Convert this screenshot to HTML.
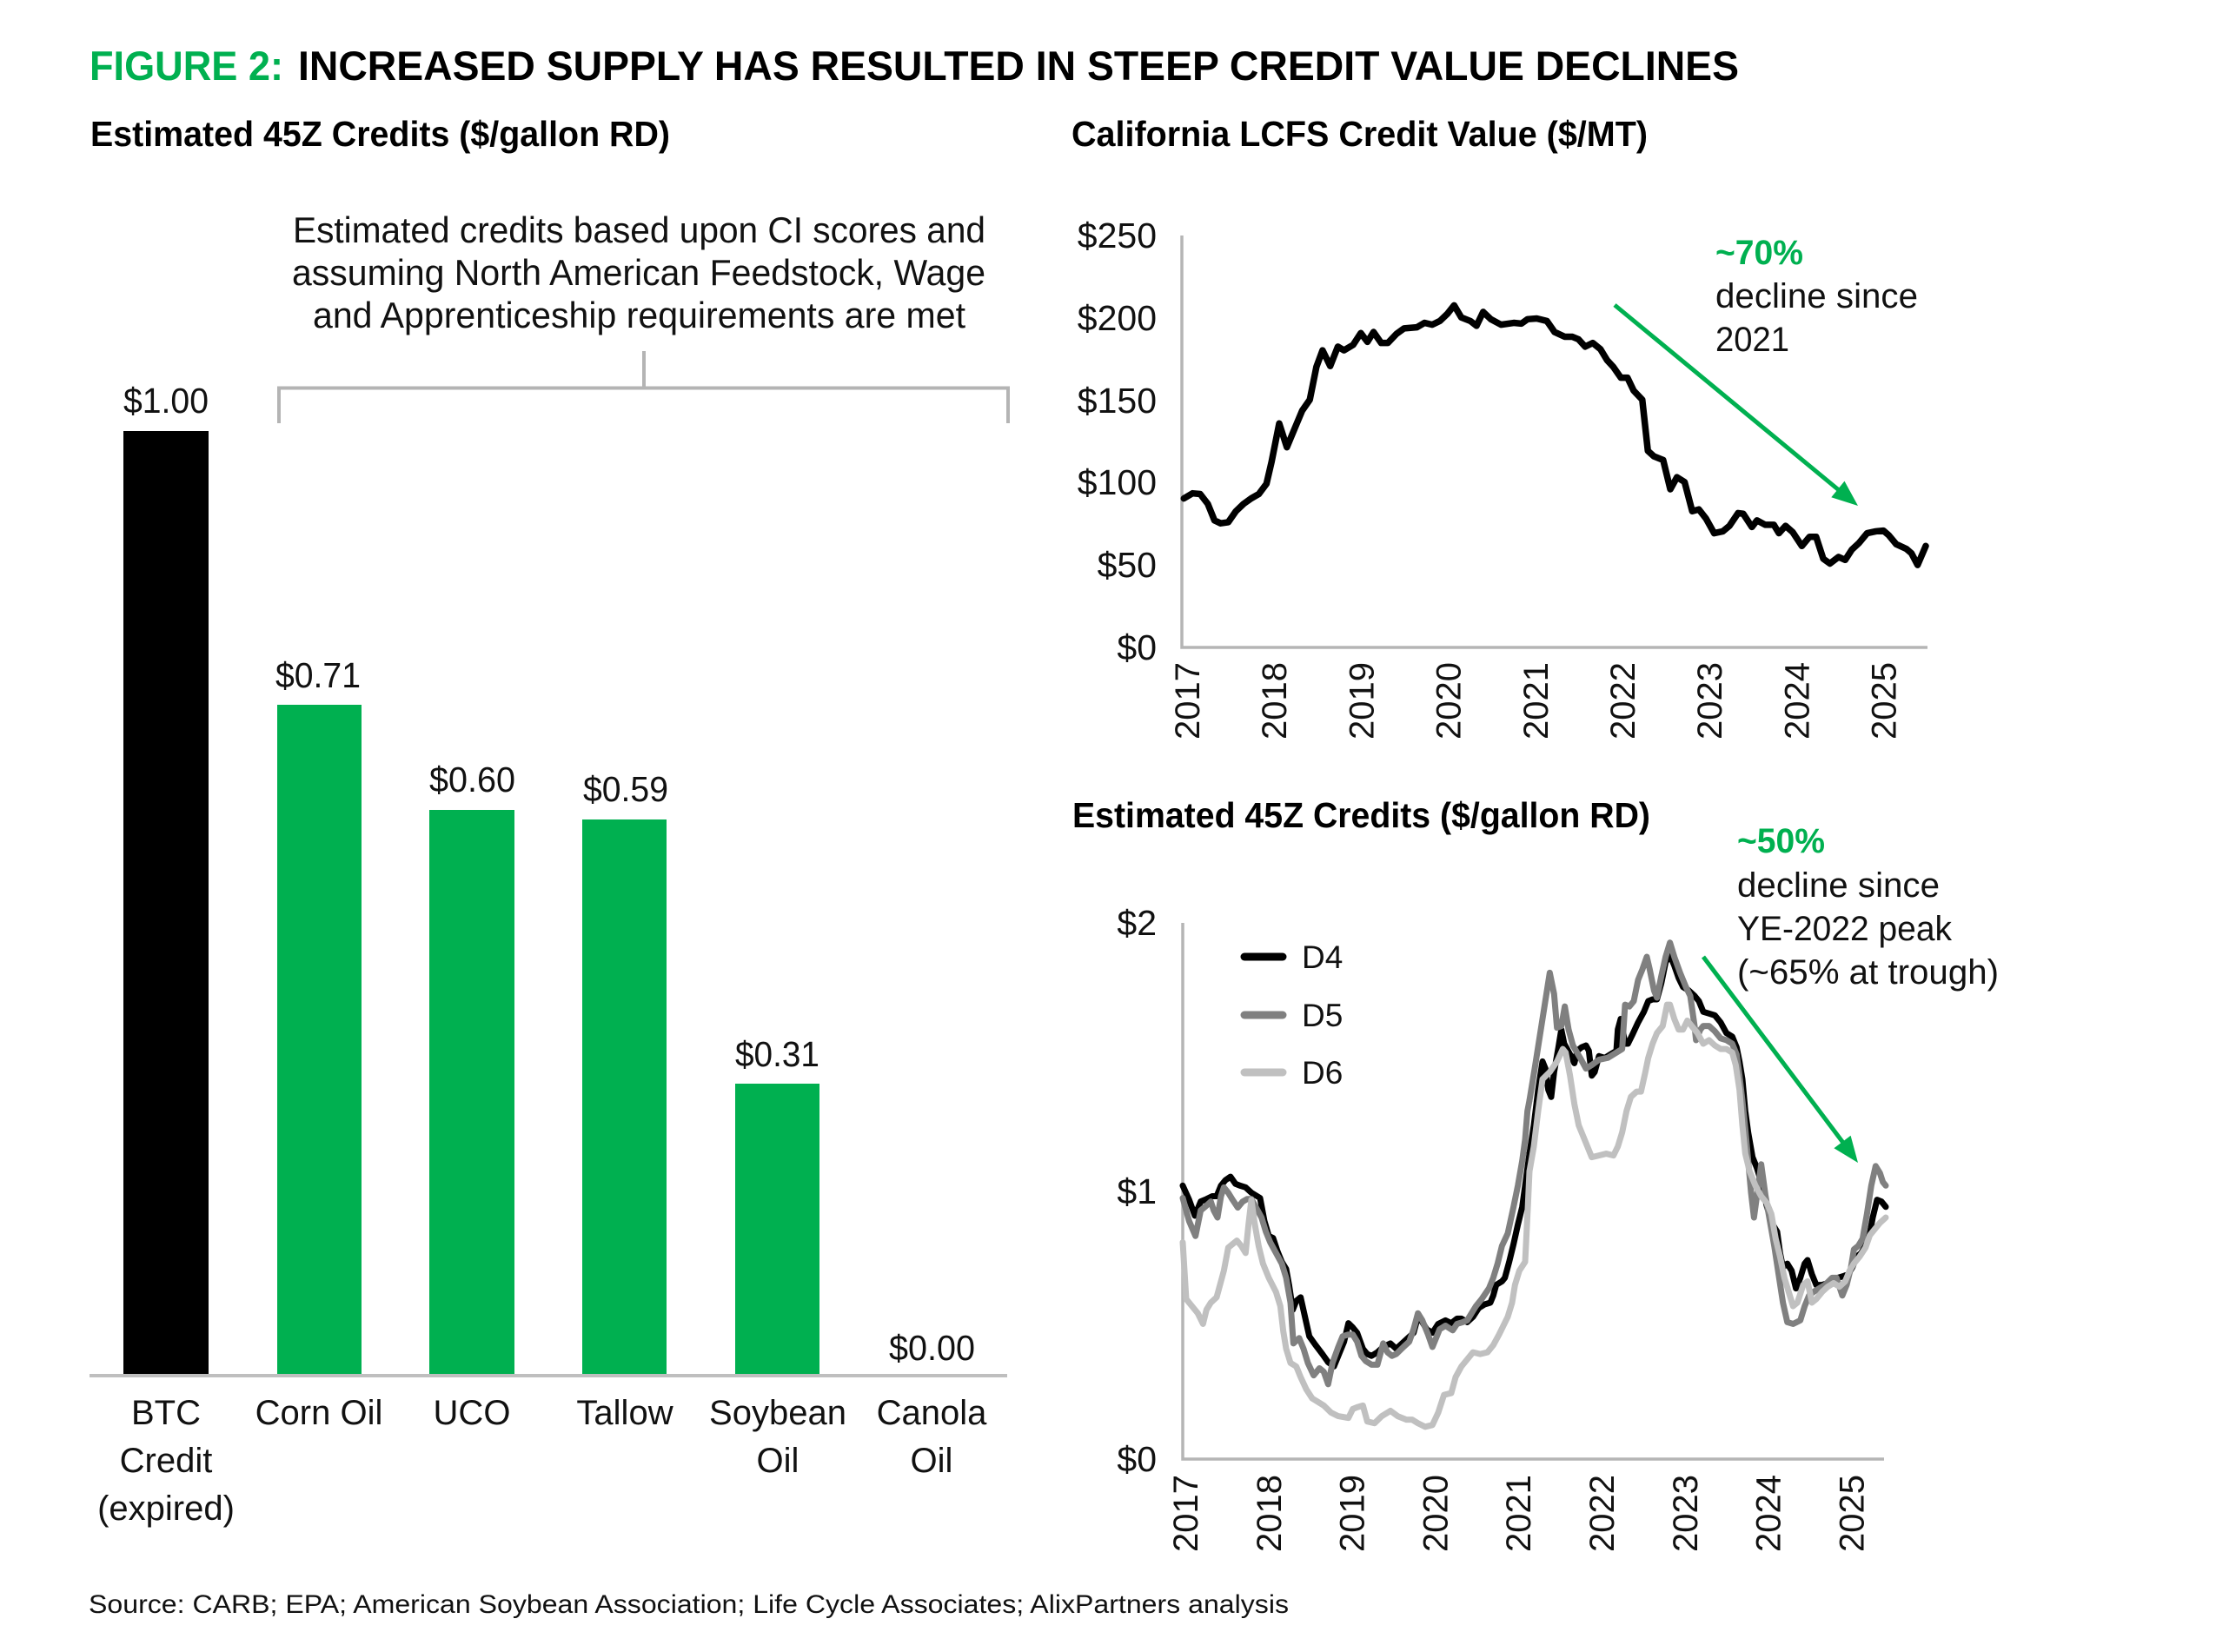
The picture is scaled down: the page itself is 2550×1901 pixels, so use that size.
<!DOCTYPE html>
<html>
<head>
<meta charset="utf-8">
<style>
html,body{margin:0;padding:0;background:#fff;}
svg{display:block;}
text{font-family:"Liberation Sans",Arial,sans-serif;}
.r{fill:#111;}
</style>
</head>
<body>
<svg width="2550" height="1901" viewBox="0 0 2550 1901" xmlns="http://www.w3.org/2000/svg">
<rect x="0" y="0" width="2550" height="1901" fill="#fff"/>

<!-- Title -->
<text x="103" y="92" font-size="47" font-weight="bold" fill="#00b050" textLength="223" lengthAdjust="spacingAndGlyphs">FIGURE 2:</text>
<text x="343" y="92" font-size="47" font-weight="bold" fill="#000" textLength="1658" lengthAdjust="spacingAndGlyphs">INCREASED SUPPLY HAS RESULTED IN STEEP CREDIT VALUE DECLINES</text>

<!-- Subtitles -->
<text x="104" y="168" font-size="41" font-weight="bold" fill="#000" textLength="667" lengthAdjust="spacingAndGlyphs">Estimated 45Z Credits ($/gallon RD)</text>
<text x="1233" y="168" font-size="41" font-weight="bold" fill="#000" textLength="663" lengthAdjust="spacingAndGlyphs">California LCFS Credit Value ($/MT)</text>
<text x="1234" y="952" font-size="41" font-weight="bold" fill="#000" textLength="665" lengthAdjust="spacingAndGlyphs">Estimated 45Z Credits ($/gallon RD)</text>

<!-- ===== Left bar chart ===== -->
<text class="r" x="337" y="279" font-size="42" textLength="797" lengthAdjust="spacingAndGlyphs">Estimated credits based upon CI scores and</text>
<text class="r" x="336" y="328" font-size="42" textLength="798" lengthAdjust="spacingAndGlyphs">assuming North American Feedstock, Wage</text>
<text class="r" x="360" y="377" font-size="42" textLength="751" lengthAdjust="spacingAndGlyphs">and Apprenticeship requirements are met</text>

<!-- bracket -->
<g stroke="#b4b4b4" stroke-width="4" fill="none">
<polyline points="321,487 321,446.5 1160,446.5 1160,487"/>
<line x1="741" y1="404" x2="741" y2="446.5"/>
</g>

<!-- bars -->
<rect x="142" y="496" width="98" height="1087" fill="#000"/>
<rect x="319" y="811" width="97" height="772" fill="#00b050"/>
<rect x="494" y="932" width="98" height="651" fill="#00b050"/>
<rect x="670" y="943" width="97" height="640" fill="#00b050"/>
<rect x="846" y="1247" width="97" height="336" fill="#00b050"/>
<line x1="103" y1="1583" x2="1159" y2="1583" stroke="#bfbfbf" stroke-width="4"/>

<!-- value labels -->
<g font-size="41" class="r">
<text x="142" y="475" textLength="98" lengthAdjust="spacingAndGlyphs">$1.00</text>
<text x="317" y="791" textLength="98" lengthAdjust="spacingAndGlyphs">$0.71</text>
<text x="494" y="911" textLength="99" lengthAdjust="spacingAndGlyphs">$0.60</text>
<text x="671" y="922" textLength="98" lengthAdjust="spacingAndGlyphs">$0.59</text>
<text x="846" y="1227" textLength="97" lengthAdjust="spacingAndGlyphs">$0.31</text>
<text x="1023" y="1565" textLength="99" lengthAdjust="spacingAndGlyphs">$0.00</text>
</g>

<!-- category labels -->
<g font-size="40" class="r" text-anchor="middle">
<text x="191" y="1639">BTC</text>
<text x="191" y="1694">Credit</text>
<text x="191" y="1749">(expired)</text>
<text x="367" y="1639">Corn Oil</text>
<text x="543" y="1639">UCO</text>
<text x="719" y="1639">Tallow</text>
<text x="895" y="1639">Soybean</text>
<text x="895" y="1694">Oil</text>
<text x="1072" y="1639">Canola</text>
<text x="1072" y="1694">Oil</text>
</g>

<!-- source -->
<text class="r" x="102" y="1856" font-size="30" textLength="1381" lengthAdjust="spacingAndGlyphs">Source: CARB; EPA; American Soybean Association; Life Cycle Associates; AlixPartners analysis</text>

<!-- ===== Top right chart ===== -->
<g stroke="#b5b5b5" stroke-width="3.5" fill="none">
<polyline points="1360,271 1360,745 2218,745"/>
</g>
<g font-size="41" class="r" text-anchor="end">
<text x="1331" y="285">$250</text>
<text x="1331" y="380">$200</text>
<text x="1331" y="475">$150</text>
<text x="1331" y="569">$100</text>
<text x="1331" y="664">$50</text>
<text x="1331" y="759">$0</text>
</g>
<g font-size="40" class="r" text-anchor="end">
<text transform="translate(1380,762) rotate(-90)">2017</text>
<text transform="translate(1480.2,762) rotate(-90)">2018</text>
<text transform="translate(1580.4,762) rotate(-90)">2019</text>
<text transform="translate(1680.6,762) rotate(-90)">2020</text>
<text transform="translate(1780.8,762) rotate(-90)">2021</text>
<text transform="translate(1881,762) rotate(-90)">2022</text>
<text transform="translate(1981.2,762) rotate(-90)">2023</text>
<text transform="translate(2081.4,762) rotate(-90)">2024</text>
<text transform="translate(2181.6,762) rotate(-90)">2025</text>
</g>

<g transform="translate(1340,220) scale(0.58675,0.42091)">
<polyline fill="none" stroke="#000" stroke-width="7.5" stroke-linejoin="round" stroke-linecap="round" vector-effect="non-scaling-stroke"
points="38,840 55,826 70,828 85,855 98,900 110,908 125,905 140,875 155,855 170,840 185,828 200,800 210,740 225,635 240,700 255,650 270,600 285,570 298,480 310,435 325,478 340,425 352,435 370,420 385,388 398,412 410,385 425,415 438,415 455,390 470,375 495,372 510,360 525,365 540,355 555,335 568,312 582,345 600,355 612,368 625,330 640,350 660,365 685,360 700,362 712,350 730,348 750,355 765,385 785,398 800,398 812,405 825,425 840,415 855,432 868,462 880,480 895,510 908,510 920,545 937,570 948,710 960,725 978,735 992,815 1005,782 1020,795 1035,875 1048,870 1062,895 1078,935 1095,930 1108,915 1125,880 1135,882 1152,918 1162,900 1178,912 1195,912 1205,935 1218,915 1232,932 1250,970 1265,945 1278,945 1292,1005 1305,1018 1322,1000 1335,1008 1348,980 1362,962 1378,935 1395,930 1410,928 1420,940 1435,965 1455,978 1465,990 1477,1022 1493,970"/>
</g>

<!-- top arrow -->
<line x1="1858" y1="351" x2="2116" y2="564" stroke="#00b050" stroke-width="5"/>
<polygon points="2138,582 2107.3,572.2 2122.5,553.6" fill="#00b050"/>
<text x="1974" y="304" font-size="40" font-weight="bold" fill="#00b050" textLength="101" lengthAdjust="spacingAndGlyphs">~70%</text>
<text class="r" x="1974" y="354" font-size="40" textLength="233" lengthAdjust="spacingAndGlyphs">decline since</text>
<text class="r" x="1974" y="404" font-size="40" textLength="85" lengthAdjust="spacingAndGlyphs">2021</text>

<!-- ===== Bottom right chart ===== -->
<g stroke="#b5b5b5" stroke-width="3.5" fill="none">
<polyline points="1361,1062 1361,1679 2168,1679"/>
</g>
<g font-size="41" class="r" text-anchor="end">
<text x="1331" y="1076">$2</text>
<text x="1331" y="1385">$1</text>
<text x="1331" y="1693">$0</text>
</g>
<g font-size="40" class="r" text-anchor="end">
<text transform="translate(1378,1697) rotate(-90)">2017</text>
<text transform="translate(1473.8,1697) rotate(-90)">2018</text>
<text transform="translate(1569.6,1697) rotate(-90)">2019</text>
<text transform="translate(1665.4,1697) rotate(-90)">2020</text>
<text transform="translate(1761.2,1697) rotate(-90)">2021</text>
<text transform="translate(1857,1697) rotate(-90)">2022</text>
<text transform="translate(1952.8,1697) rotate(-90)">2023</text>
<text transform="translate(2048.6,1697) rotate(-90)">2024</text>
<text transform="translate(2144.4,1697) rotate(-90)">2025</text>
</g>

<!-- legend -->
<g stroke-width="9" stroke-linecap="round">
<line x1="1432" y1="1101" x2="1476" y2="1101" stroke="#000"/>
<line x1="1432" y1="1168" x2="1476" y2="1168" stroke="#808080"/>
<line x1="1432" y1="1234" x2="1476" y2="1234" stroke="#c0c0c0"/>
</g>
<g font-size="37" class="r">
<text x="1498" y="1114">D4</text>
<text x="1498" y="1181">D5</text>
<text x="1498" y="1247">D6</text>
</g>

<!-- series: D4 -->
<g fill="none" stroke-linejoin="round" stroke-linecap="round">
<g transform="translate(1355,1050) scale(0.33333,0.40816)">
<polyline stroke="#000" stroke-width="7" vector-effect="non-scaling-stroke" points="18,770 40,810 60,855 80,815 100,808 120,800 135,800 150,770 165,755 183,745 200,765 215,770 235,775 255,790 285,805 300,870 315,912 330,918 345,955 360,985 375,1005 385,1050 398,1120 410,1095 425,1085 440,1140 455,1195 475,1218 500,1245 520,1268 540,1280 555,1250 575,1210 590,1158 605,1170 620,1185 640,1230 655,1245 670,1250 690,1240 710,1225 735,1215 755,1230 775,1215 795,1200 815,1185 830,1140 845,1155 860,1175 880,1185 900,1160 925,1150 945,1158 965,1145 980,1145 1000,1155 1020,1140 1040,1115 1060,1105 1080,1100 1090,1080 1100,1050 1120,1040 1130,1030 1145,985 1160,935 1175,880 1190,830 1205,740 1215,680"/>
</g>
<g transform="translate(1760,1050) scale(0.33333,0.40816)">
<polyline stroke="#000" stroke-width="7" vector-effect="non-scaling-stroke" points="0,680 15,600 30,500 45,420 55,440 65,500 75,520 85,450 100,380 110,330 120,370 140,400 155,425 165,390 180,380 195,375 205,390 215,460 225,450 240,405 260,410 280,400 300,390 305,330 315,300 330,370 340,370 355,345 375,310 395,280 410,250 425,245 440,245 455,200 470,140 485,120 500,150 515,185 530,210 550,220 570,235 585,250 600,280 620,285 640,290 660,310 680,340 700,350 715,380 725,420 735,470 745,560 755,620 770,690 785,720 800,760 820,830 840,880 855,900 865,960 875,1000 890,990 905,1010 920,1060 935,1030 950,990 960,980 975,1020 990,1050 1010,1050 1030,1045 1050,1035 1065,1030 1085,1025 1100,1020 1115,1000 1130,970 1145,960 1160,940 1175,905 1185,860 1200,810 1215,815 1230,830"/>
</g>

<!-- D5 -->
<g transform="translate(1355,1050) scale(0.33333,0.40816)">
<polyline stroke="#808080" stroke-width="7" vector-effect="non-scaling-stroke" points="18,805 40,870 62,912 80,840 95,830 115,815 125,840 138,860 150,800 160,775 175,790 190,810 208,832 225,815 240,808 255,808 270,830 290,860 305,900 320,930 340,960 360,990 375,1030 390,1100 400,1215 420,1200 435,1230 450,1270 470,1305 490,1285 505,1295 520,1330 535,1270 555,1225 570,1195 590,1190 605,1190 620,1210 635,1250 650,1265 670,1275 690,1275 710,1215 725,1240 740,1250 755,1245 780,1225 800,1210 815,1175 830,1130 845,1150 865,1190 880,1225 895,1195 905,1175 925,1165 950,1178 965,1160 985,1155 1000,1150 1015,1130 1030,1110 1050,1090 1075,1060 1090,1030 1105,990 1120,940 1140,905 1160,830 1175,770 1190,700 1200,640 1208,560 1215,530"/>
</g>
<g transform="translate(1760,1050) scale(0.33333,0.40816)">
<polyline stroke="#808080" stroke-width="7" vector-effect="non-scaling-stroke" points="0,530 20,430 45,300 70,170 85,230 95,325 110,320 122,265 135,330 150,375 175,410 195,440 215,430 240,415 270,410 300,395 320,385 330,260 345,265 360,250 375,190 390,160 405,125 415,160 430,220 440,240 455,180 470,125 485,85 500,125 520,170 540,210 555,235 570,320 575,360 590,330 600,320 620,320 640,335 660,355 680,360 700,370 715,400 725,460 735,530 745,610 755,700 765,790 775,860 785,800 800,710 805,740 815,800 830,870 845,940 860,1020 875,1100 890,1155 910,1160 935,1150 950,1110 965,1080 980,1070 1000,1060 1020,1050 1045,1030 1060,1030 1080,1080 1095,1050 1110,1000 1120,950 1135,940 1150,920 1165,850 1180,770 1195,715 1210,735 1220,760 1230,770"/>
</g>

<!-- D6 -->
<g transform="translate(1355,1050) scale(0.33333,0.40816)">
<polyline stroke="#c0c0c0" stroke-width="7" vector-effect="non-scaling-stroke" points="18,930 30,1090 50,1110 70,1130 88,1160 100,1120 115,1100 135,1085 150,1040 160,1010 175,945 190,935 205,925 220,940 235,960 245,880 255,810 265,870 280,940 295,990 315,1030 340,1070 355,1110 365,1180 375,1230 390,1270 410,1280 425,1310 445,1345 465,1370 485,1380 505,1390 530,1410 555,1420 590,1425 605,1400 620,1395 640,1390 655,1435 680,1440 705,1420 735,1405 760,1420 790,1430 810,1430 830,1440 855,1450 880,1445 900,1410 920,1360 945,1355 960,1310 980,1280 1000,1260 1020,1240 1045,1245 1070,1240 1090,1220 1110,1190 1140,1140 1155,1100 1165,1050 1180,1010 1200,985 1210,820 1215,730"/>
</g>
<g transform="translate(1760,1050) scale(0.33333,0.40816)">
<polyline stroke="#c0c0c0" stroke-width="7" vector-effect="non-scaling-stroke" points="0,730 15,660 30,560 45,470 70,450 95,420 115,385 125,395 140,460 155,540 170,600 190,640 215,690 240,685 265,680 290,685 305,660 320,620 335,560 350,520 370,505 385,505 400,450 410,410 425,370 440,340 460,320 475,260 485,260 500,300 515,330 530,330 545,305 560,320 580,340 600,370 620,360 640,375 660,385 680,385 700,395 712,430 725,500 735,600 745,680 760,730 780,770 800,800 820,820 835,850 850,920 865,970 880,1030 895,1070 910,1110 925,1100 945,1050 960,1040 975,1100 990,1090 1010,1070 1030,1055 1050,1045 1070,1055 1090,1040 1105,1010 1120,990 1140,970 1160,945 1175,910 1195,890 1210,875 1230,860"/>
</g>
</g>

<!-- bottom arrow -->
<line x1="1960" y1="1101" x2="2121" y2="1315" stroke="#00b050" stroke-width="5"/>
<polygon points="2138,1338 2110.4,1321.2 2129.6,1306.8" fill="#00b050"/>
<text x="1999" y="981" font-size="40" font-weight="bold" fill="#00b050" textLength="101" lengthAdjust="spacingAndGlyphs">~50%</text>
<text class="r" x="1999" y="1032" font-size="40" textLength="233" lengthAdjust="spacingAndGlyphs">decline since</text>
<text class="r" x="1999" y="1082" font-size="40" textLength="247" lengthAdjust="spacingAndGlyphs">YE-2022 peak</text>
<text class="r" x="1999" y="1132" font-size="40" textLength="301" lengthAdjust="spacingAndGlyphs">(~65% at trough)</text>

</svg>
</body>
</html>
